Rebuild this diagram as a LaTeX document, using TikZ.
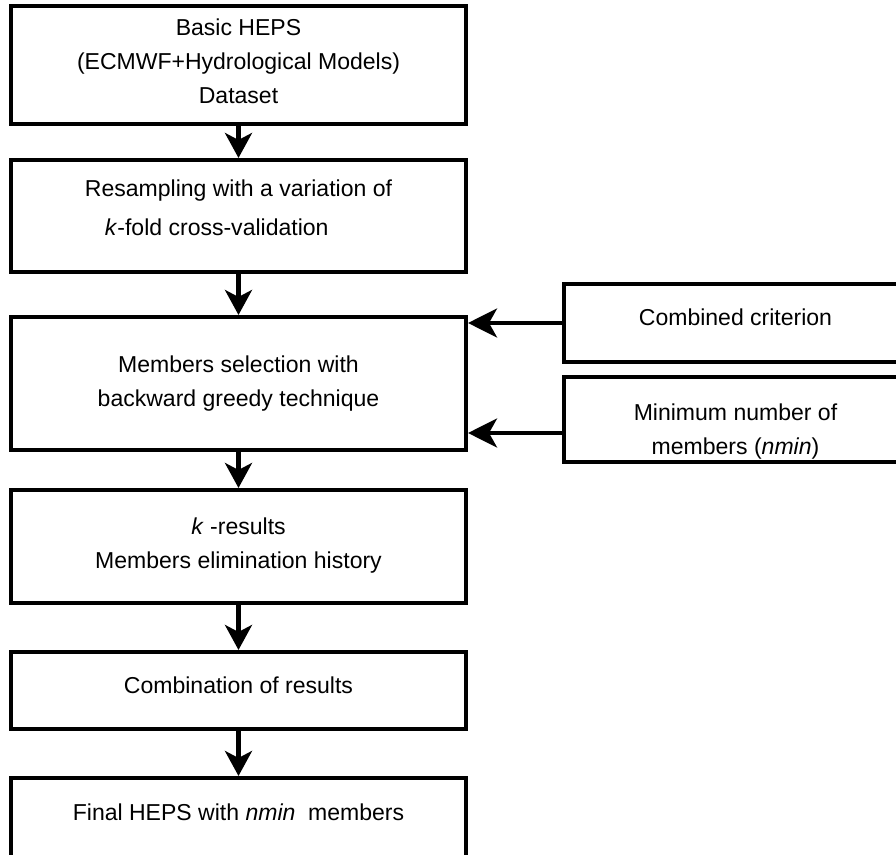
\documentclass[tikz,border=0pt]{standalone}
\usepackage{fontspec}
\setmainfont{Liberation Sans}
\usetikzlibrary{arrows.meta}

\begin{document}
\begin{tikzpicture}[line width=2.3pt,
        box/.style={rectangle,draw,minimum width=9.1cm,align=center,font=\fontsize{13.1pt}{19.3pt}\selectfont},
        side/.style={box,minimum width=6.86cm},
        flow/.style={arrows = -{Stealth[length=0.5cm,width=0.54cm,inset=0.14cm]}},
        feed/.style={arrows = -{Stealth[length=0.58cm,width=0.58cm,inset=0.16cm]}}]

            %\draw [help lines] (0,0) grid (18,17);
            \useasboundingbox (0,0) rectangle (17.92,17.08);
            \clip (0,0) rectangle (17.92,17.08);

            % the rules of zero width only move the text up or down in its box
            \path   (4.77,15.78) node (heps) [box,minimum height=2.36cm] {Basic HEPS\\(ECMWF+Hydrological Models)\\Dataset\rule[-0.16cm]{0pt}{0.16cm}}
                    (4.77,12.76) node (resamp) [box,minimum height=2.24cm,align=left] {Resampling with a variation of\\[0.1cm]\hspace*{0.4cm}\textit{k}-fold cross-validation\rule[-0.32cm]{0pt}{0.32cm}}
                    (4.77,9.41) node (select) [box,minimum height=2.66cm] {Members selection with\\backward greedy technique}
                    (4.77,6.15) node (kres) [box,minimum height=2.26cm] {\textit{k} -results\\Members elimination history\rule[-0.14cm]{0pt}{0.14cm}}
                    (4.77,3.27) node (comb) [box,minimum height=1.54cm] {Combination of results\rule[-0.2cm]{0pt}{0.2cm}}
                    (4.77,0.70) node (final) [box,minimum height=1.64cm] {Final HEPS with \textit{nmin}\ \ members\rule[-0.28cm]{0pt}{0.28cm}}
                    (14.71,10.62) node (crit) [side,minimum height=1.56cm] {Combined criterion\rule[-0.24cm]{0pt}{0.24cm}}
                    (14.71,8.69) node (nmin) [side,minimum height=1.70cm,inner ysep=0pt] {\rule{0pt}{0.82cm}Minimum number of\\members (\textit{nmin})};

            \draw[flow] (heps.south) -- (resamp.north);
            \draw[flow] (resamp.south) -- (select.north);
            \draw[flow] (select.south) -- (kres.north);
            \draw[flow] (kres.south) -- (comb.north);
            \draw[flow] (comb.south) -- (final.north);

            \draw[feed] (crit.west) -- (crit.west -| select.east);
            \draw[feed] ([yshift=-0.27cm]nmin.west) -- ([yshift=-0.27cm]nmin.west -| select.east);

\end{tikzpicture}
\end{document}
